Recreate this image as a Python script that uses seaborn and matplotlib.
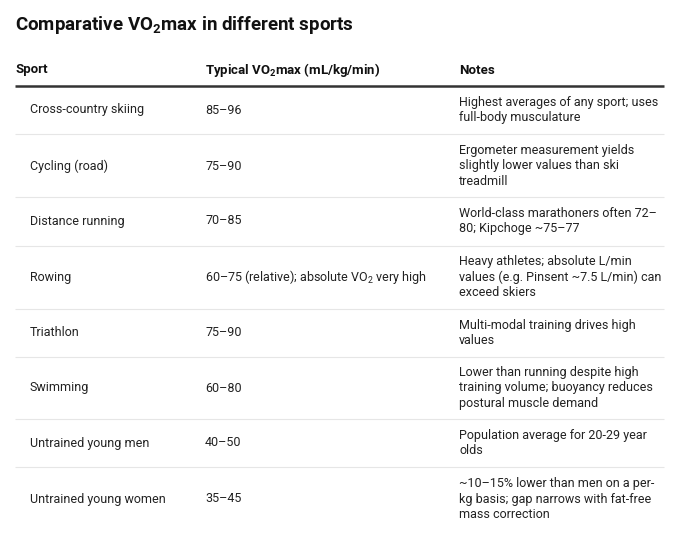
import matplotlib
matplotlib.use("Agg")
import matplotlib.pyplot as plt
import seaborn as sns

sns.set_theme(style="white")
plt.rcParams["font.family"] = ["Roboto", "DejaVu Sans"]
plt.rcParams["mathtext.fontset"] = "custom"
plt.rcParams["mathtext.rm"] = "Roboto"
plt.rcParams["mathtext.bf"] = "Roboto:bold"

title = r"Comparative VO$_\mathbf{2}$max in different sports"
headers = ["Sport", r"Typical VO$_\mathbf{2}$max (mL/kg/min)", "Notes"]
sports = ["Cross-country skiing", "Cycling (road)", "Distance running", "Rowing",
          "Triathlon", "Swimming", "Untrained young men", "Untrained young women"]
vo2 = ["85–96", "75–90", "70–85", r"60–75 (relative); absolute VO$_2$ very high",
       "75–90", "60–80", "40–50", "35–45"]
notes = [
    "Highest averages of any sport; uses\nfull-body musculature",
    "Ergometer measurement yields\nslightly lower values than ski\ntreadmill",
    "World-class marathoners often 72–\n80; Kipchoge ~75–77",
    "Heavy athletes; absolute L/min\nvalues (e.g. Pinsent ~7.5 L/min) can\nexceed skiers",
    "Multi-modal training drives high\nvalues",
    "Lower than running despite high\ntraining volume; buoyancy reduces\npostural muscle demand",
    "Population average for 20-29 year\nolds",
    "~10–15% lower than men on a per-\nkg basis; gap narrows with fat-free\nmass correction",
]
row_centers = [110, 166, 221, 277, 333, 388, 443, 499]
row_lines = [134, 197, 246, 309, 357, 419, 467]

fig = plt.figure(figsize=(6.8, 5.39), dpi=100)
ax = fig.add_axes([0, 0, 1, 1])
ax.set_xlim(0, 680)
ax.set_ylim(539, 0)
ax.axis("off")

col_x = [15, 205, 459]
ax.text(15, 25, title, fontsize=13.5, fontweight="bold", va="center", color="#111")
for x, h in zip(col_x, headers):
    ax.text(x, 70, h, fontsize=9.5, fontweight="bold", va="center", color="#111")
ax.hlines(86, 15, 664, color="#333", lw=1.8)
ax.hlines(row_lines, 15, 664, color="#e6e6e6", lw=0.8)

for y, s, v, n in zip(row_centers, sports, vo2, notes):
    ax.text(30, y, s, fontsize=9, va="center", color="#222")
    ax.text(205, y, v, fontsize=9, va="center", color="#222")
    ax.text(459, y, n, fontsize=9, va="center", color="#222", linespacing=1.25)

fig.savefig("out.png", dpi=100)
